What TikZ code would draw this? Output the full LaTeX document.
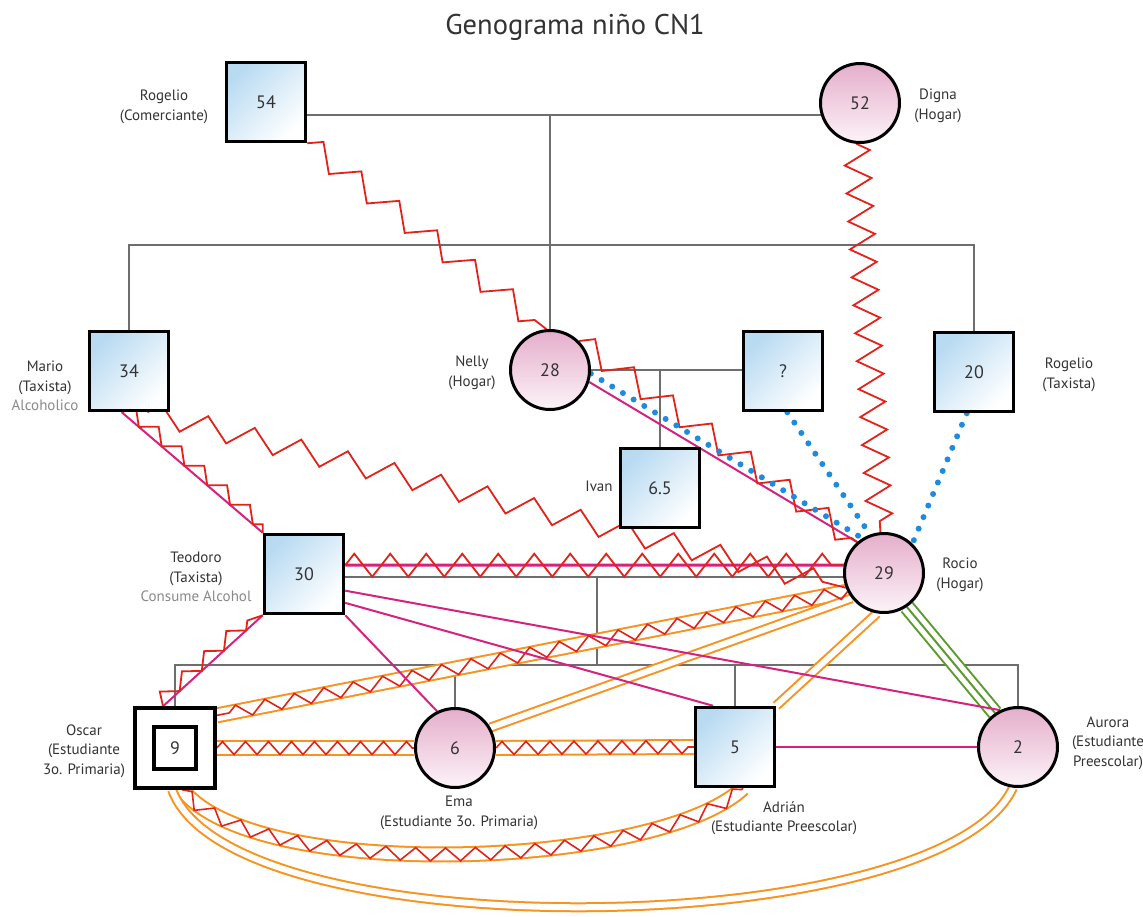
\documentclass[tikz,border=0pt]{standalone}
\usepackage{fontspec}
\setmainfont{PT Sans}
\usetikzlibrary{decorations.pathmorphing,backgrounds}

\definecolor{ink}{HTML}{333333}
\definecolor{faint}{HTML}{8A8A8A}
\definecolor{kingray}{HTML}{6E6E6E}
\definecolor{sqblue}{HTML}{B9DBF2}
\definecolor{cipink}{HTML}{E5AECB}
\definecolor{cipale}{HTML}{FCF3F8}
\definecolor{conred}{HTML}{E2231A}
\definecolor{closemag}{HTML}{D4237F}
\definecolor{dotblue}{HTML}{1F8BE0}
\definecolor{bondor}{HTML}{F7931E}
\definecolor{fusegreen}{HTML}{5B9B2E}

\begin{document}
\begin{tikzpicture}[x=1pt,y=-1pt,
  male/.style={rectangle, draw=black, line width=3.5pt, minimum size=79pt,
    inner sep=0pt, top color=sqblue, bottom color=white, shading angle=45,
    text=ink, font=\fontsize{18}{18}\selectfont},
  female/.style={circle, draw=black, line width=3pt, minimum size=79pt,
    inner sep=0pt, top color=cipink, bottom color=cipale,
    text=ink, font=\fontsize{18}{18}\selectfont},
  patient/.style={rectangle, draw=black, line width=3.5pt, minimum size=80pt,
    inner sep=0pt, fill=white},
  patientcore/.style={rectangle, draw=black, line width=3.5pt, minimum size=42pt,
    inner sep=0pt, fill=white, text=ink, font=\fontsize{18}{18}\selectfont},
  lab/.style={align=center, inner sep=0pt, text=ink,
    font=\fontsize{15}{19.5}\selectfont},
  heading/.style={inner sep=0pt, text=ink, font=\fontsize{28.5}{28.5}\selectfont},
  kinline/.style={draw=kingray, line width=1.6pt},
  closeline/.style={draw=closemag, line width=2pt},
  distline/.style={draw=dotblue, line width=6pt, line cap=round,
    dash pattern=on 0pt off 12.5pt},
  conflict/.style={draw=conred, line width=1.8pt, line join=miter, decorate,
    decoration={zigzag, segment length=48pt, amplitude=11pt}},
  jagvert/.style={draw=conred, line width=1.8pt, decorate,
    decoration={zigzag, segment length=28pt, amplitude=13pt}},
  jagmid/.style={draw=conred, line width=1.8pt, decorate,
    decoration={zigzag, segment length=36pt, amplitude=11.5pt}},
  jagtiny/.style={draw=conred, line width=1.8pt, decorate,
    decoration={zigzag, segment length=30pt, amplitude=6.5pt, raise=6.5pt}},
  zigbond/.style={draw=conred, line width=1.6pt, decorate,
    decoration={zigzag, segment length=#1, amplitude=6.5pt}},
  bondline/.style={draw=bondor, line width=2pt, double=white, double distance=6pt},
  bondwide/.style={draw=bondor, line width=2pt, double=white, double distance=12pt},
  fusedline/.style={draw=fusegreen, line width=2pt, double=white, double distance=12pt},
  fusedmid/.style={draw=fusegreen, line width=2pt}
]
\useasboundingbox (0,0) rectangle (1143,916);

% title
\node[heading] (ttl) at (575,27) {Genograma niño CN1};

% grandparents
\node[male]   (r54)   at (266,102) {54};
\node[female] (digna) at (860,103) {52};

% parents' generation
\node[male]   (mario) at (129,371) {34};
\node[female] (nelly) at (550,370) {28};
\node[male]   (q)     at (783,371) {?};
\node[male]   (r20)   at (974,372) {20};
\node[male]   (ivan)  at (660,488) {6.5};
\node[male]   (teo)   at (304,574) {30};
\node[female] (rocio) at (884,573) {29};

% children
\node[patient]     (oscar)     at (175,748) {};
\node[patientcore] (oscarcore) at (oscar.center) {9};
\node[female] (ema)    at (455,748) {6};
\node[male]   (adrian) at (735,747) {5};
\node[female] (aurora) at (1018,747) {2};

% names and occupations
\node[lab] (l54) at (164,107) {Rogelio\\(Comerciante)};
\node[lab] (l52) at (938,106) {Digna\\(Hogar)};
\node[lab] (l34) at (45,386) {Mario\\(Taxista)\\\textcolor{faint}{Alcoholico}};
\node[lab] (l28) at (472,373) {Nelly\\(Hogar)};
\node[lab] (l20) at (1069,375) {Rogelio\\(Taxista)};
\node[lab] (l65) at (599,486) {Ivan};
\node[lab] (l30) at (196,577) {Teodoro\\(Taxista)\\\textcolor{faint}{Consume Alcohol}};
\node[lab] (l29) at (960,575) {Rocio\\(Hogar)};
\node[lab] (l9)  at (84,751) {Oscar\\(Estudiante\\3o. Primaria)};
\node[lab] (l6)  at (459,813) {Ema\\(Estudiante 3o. Primaria)};
\node[lab] (l5)  at (784,818) {Adrián\\(Estudiante Preescolar)};
\node[lab] (l2)  at (1108,743) {Aurora\\(Estudiante\\Preescolar)};

% junctions of the family lines
\coordinate (p1) at (550,115);
\coordinate (p2) at (550,245);
\coordinate (p3) at (660,370);
\coordinate (p4) at (597,577);
\coordinate (p5) at (597,665);

\begin{pgfonlayer}{background}
  \fill[white] (0,0) rectangle (1143,916);

  % family structure
  \draw[kinline] (r54.center |- p1) -- (digna.center |- p1);
  \draw[kinline] (p1) -- (nelly.center);
  \draw[kinline] (mario.center) |- (p2) -| (r20.center);
  \draw[kinline] (nelly.center) -- (q.center |- nelly.center);
  \draw[kinline] (p3) -- (ivan.center);
  \draw[kinline] (teo.center |- p4) -- (rocio.center |- p4);
  \draw[kinline] (p4) -- (p5);
  \draw[kinline] (oscar.center) |- (p5) -| (aurora.center);
  \draw[kinline] (ema.center) -- (ema.center |- p5);
  \draw[kinline] (adrian.center) -- (adrian.center |- p5);

  % close bonds (orange)
  \draw[bondwide] (rocio.207) -- (oscar.38);
  \draw[bondline] (rocio.218) -- (ema.30);
  \draw[bondline] (rocio.260) -- (adrian.north east);
  \draw[bondwide] (oscar.east) -- (ema.west);
  \draw[bondwide] (ema.east) -- (adrian.west);
  \draw[bondwide] (oscar.-80) to[out=-52,in=-137,looseness=0.54] (adrian.-79);
  \draw[bondline] (oscar.-94) to[out=-70,in=-115,looseness=0.52] (aurora.-97);

  % fused bond (green)
  \draw[fusedline] (rocio.-56) -- (aurora.124);
  \draw[fusedmid]  (rocio.-56) -- (aurora.124);

  % conflict on top of the bonds
  \draw[zigbond=30pt] (rocio.207) -- (oscar.38);
  \draw[zigbond=23pt] (oscar.east) -- (ema.west);
  \draw[zigbond=24pt] (ema.east) -- (adrian.west);
  \draw[zigbond=30pt] (oscar.-80) to[out=-52,in=-137,looseness=0.54] (adrian.-79);

  % close relations (magenta)
  \draw[closeline] (nelly.-17) -- (rocio.131);
  \draw[closeline, line width=3pt] (teo.12) -- (rocio.169);
  \draw[closeline] (mario.-100) -- (teo.north west);
  \draw[closeline] (oscar.106) -- (teo.south west);
  \draw[closeline] (teo.south east) -- (ema.116);
  \draw[closeline] (teo.-35) -- (adrian.118);
  \draw[closeline] (teo.-22) -- (aurora.116);
  \draw[closeline] (adrian.east) -- (aurora.west);

  % conflict (red zigzag)
  \draw[conflict] (r54.south east) -- (nelly.95);
  \draw[conflict] (nelly.45) -- (rocio.131);
  \draw[conflict] (mario.-66) -- (rocio.201);
  \draw[jagvert] (digna.-95) -- (rocio.95);
  \draw[jagmid] (teo.12) -- (rocio.169);
  \draw[jagtiny] (mario.-100) -- (teo.north west);
  \draw[jagtiny] (oscar.106) -- (teo.south west);

  % distant relations (blue dots)
  \draw[distline] (nelly.-5) -- (rocio.122);
  \draw[distline] (q.-84) -- (rocio.110);
  \draw[distline] (r20.-100) -- (rocio.46);
\end{pgfonlayer}
\end{tikzpicture}
\end{document}
